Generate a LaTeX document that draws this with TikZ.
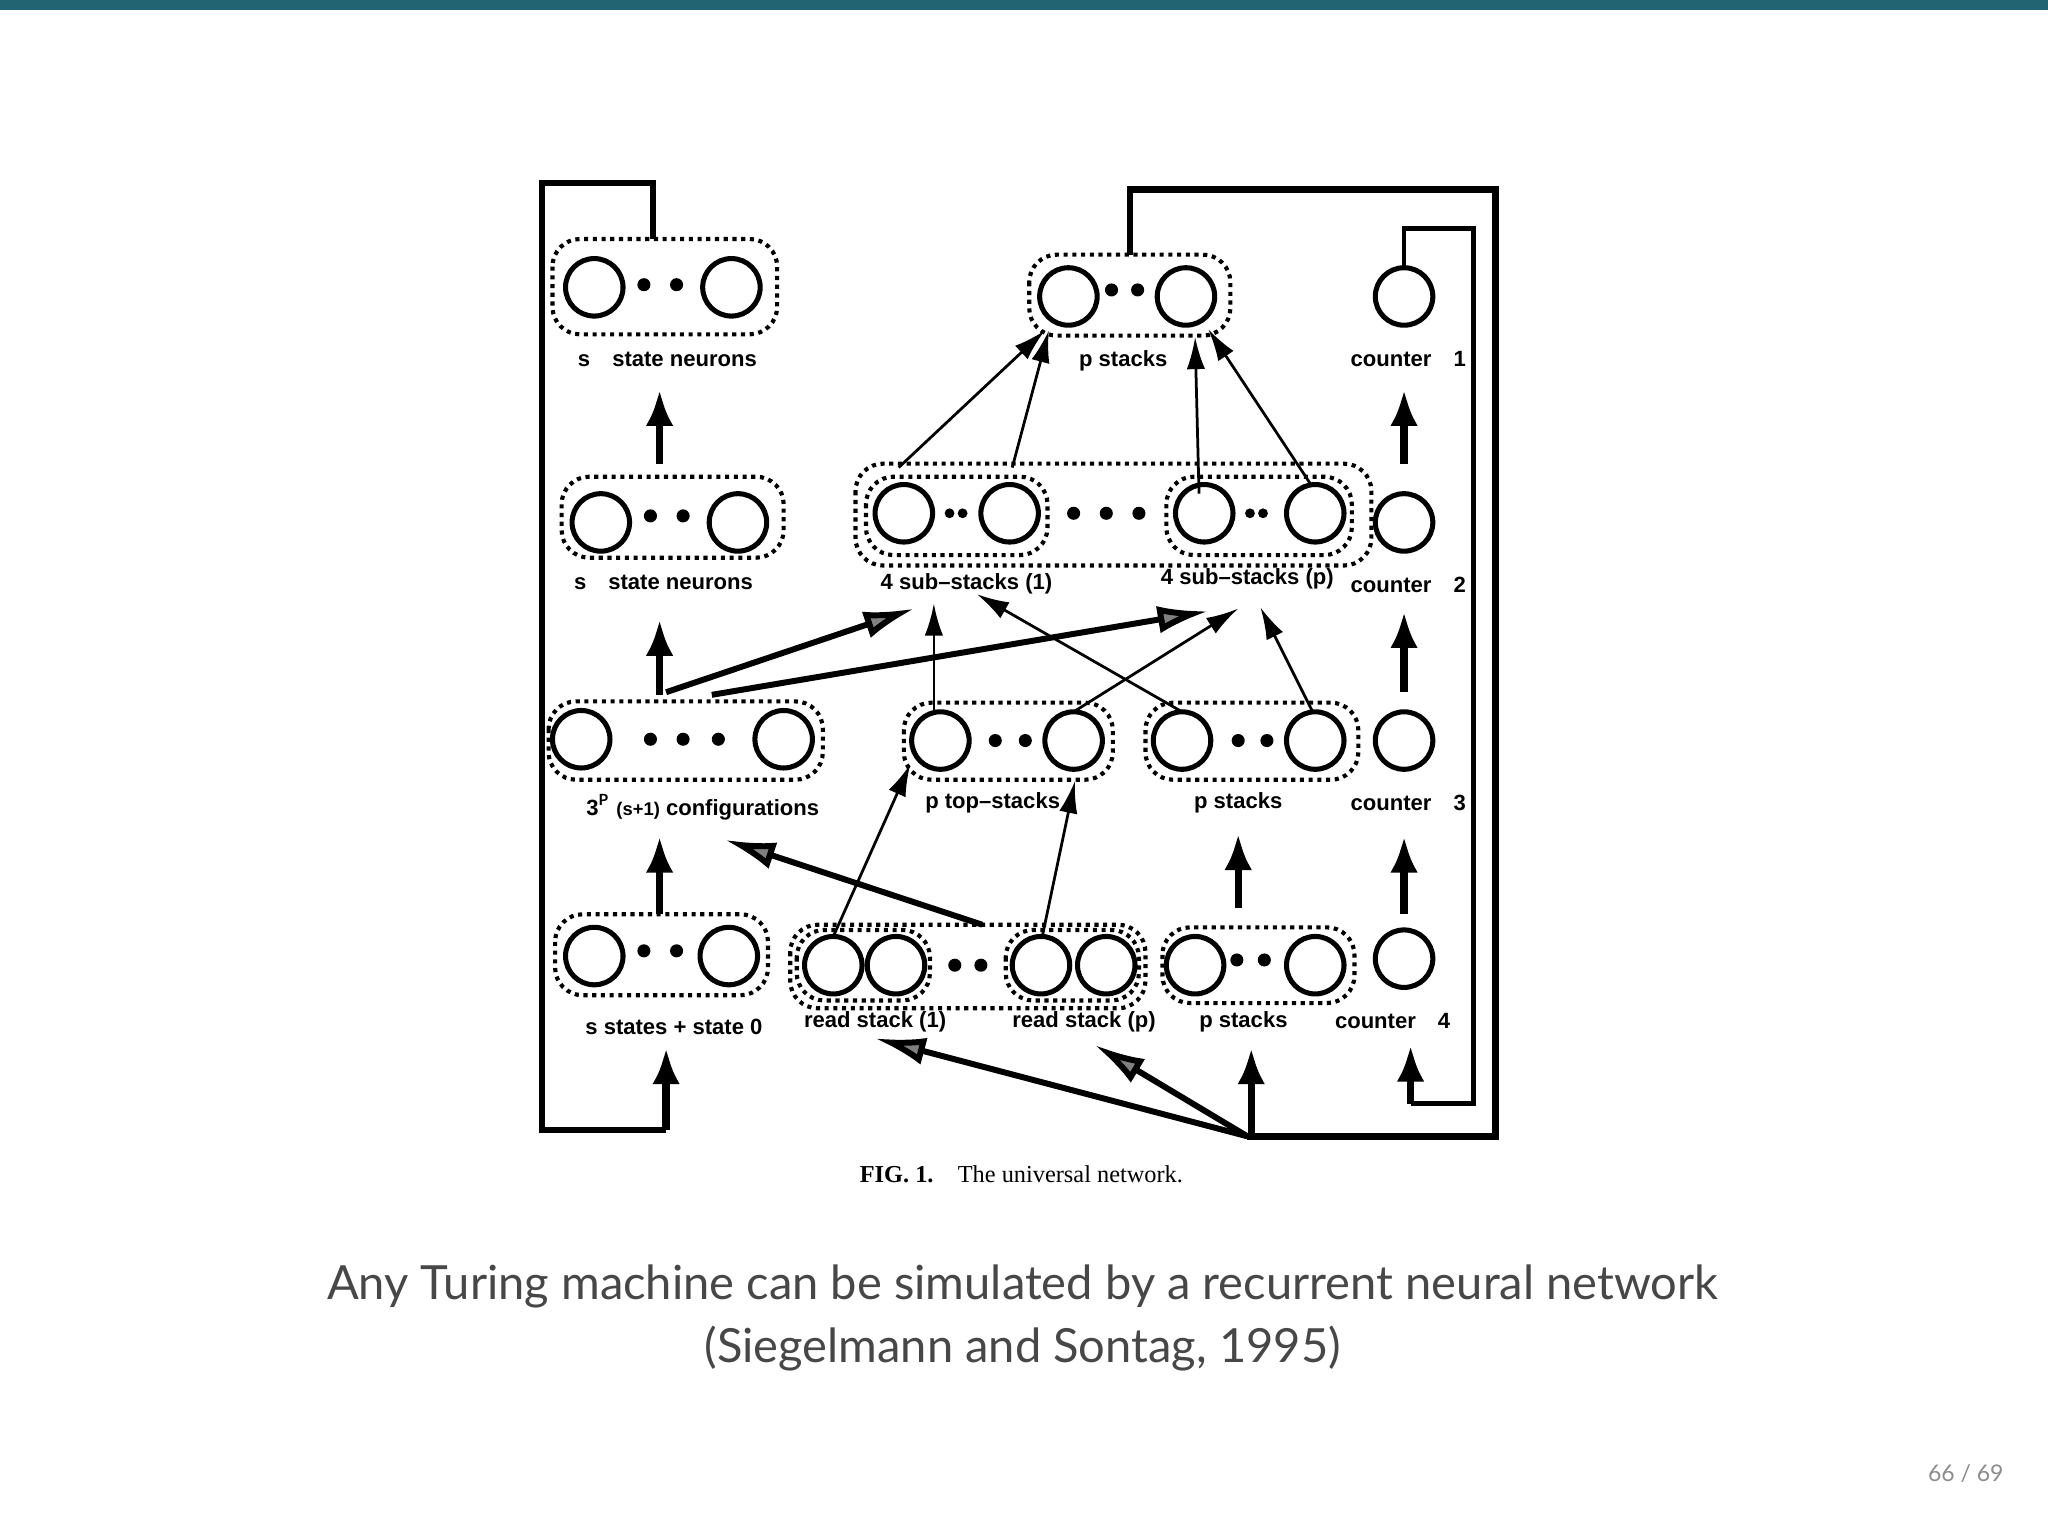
\documentclass[tikz,border=0pt]{standalone}
\usepackage{fontspec}
\setmainfont{Lato}
\newfontfamily\lab{Liberation Sans}
\newfontfamily\capf{Liberation Serif}
\usetikzlibrary{arrows.meta}
\definecolor{teal}{RGB}{35,100,115}
\begin{document}
\begin{tikzpicture}[x=0.01cm,y=-0.01cm,
  neuron/.style={circle,draw,line width=1.1pt,minimum size=0.44cm,inner sep=0pt},
  dotn/.style={circle,fill,inner sep=0pt,minimum size=0.1cm},
  sdot/.style={circle,fill,inner sep=0pt,minimum size=0.075cm},
  grp/.style={draw,densely dotted,line width=0.9pt,rounded corners=6pt},
  lbl/.style={font=\lab\bfseries\fontsize{4.8}{6}\selectfont,inner sep=0pt},
  loop/.style={line width=1.4pt},
  arr/.style={line width=0.6pt,-{Latex[length=7pt,width=4pt]}},
  thk/.style={line width=1.6pt,-{Latex[length=8pt,width=6pt]}},
  gry/.style={line width=1.3pt,-{Latex[length=11pt,width=6pt,fill=gray]}}]
\useasboundingbox (0,0) rectangle (1568,1174);
\fill[teal] (0,0) rectangle (1568,8);
% left column
\draw[grp] (423,183) rectangle (595,256);
\node[neuron] (a1) at (455,220) {}; \node[neuron] (a2) at (560,220) {};
\node[dotn] at (493,218) {}; \node[dotn] at (518,218) {};
\node[lbl] at (511,275) {s\quad state neurons};
\draw[grp] (430,365) rectangle (600,427);
\node[neuron] (b1) at (460,400) {}; \node[neuron] (b2) at (565,400) {};
\node[dotn] at (498,395) {}; \node[dotn] at (523,395) {};
\node[lbl] at (508,446) {s\quad state neurons};
\draw[grp] (420,537) rectangle (630,597);
\node[neuron] (c1) at (445,566) {}; \node[neuron] (c2) at (600,566) {};
\foreach \x in {498,523,550} \node[dotn] at (\x,566) {};
\node[lbl] at (538,618) {3$^{\mathbf P}$ {\fontsize{4}{5}\selectfont(s+1)} configurations};
\draw[grp] (425,700) rectangle (588,762);
\node[neuron] (d1) at (455,732) {}; \node[neuron] (d2) at (558,732) {};
\node[dotn] at (493,728) {}; \node[dotn] at (518,728) {};
\node[lbl] at (516,786) {s states + state 0};
\draw[thk] (505,355) -- (505,298);
\draw[thk] (505,532) -- (505,474);
\draw[thk] (505,700) -- (505,640);
% left loop
\draw[loop] (500,183) -- (500,140) -- (415,140) -- (415,865) -- (510,865);
\draw[thk] (510,865) -- (510,802);
% top middle
\draw[grp] (788,195) rectangle (942,257);
\node[neuron] (t1) at (818,227) {}; \node[neuron] (t2) at (908,227) {};
\node[dotn] at (851,222) {}; \node[dotn] at (871,222) {};
\node[lbl] at (860,276) {p stacks};
% right loop
\draw[loop] (865,195) -- (865,145) -- (1145,145) -- (1145,870) -- (955,870);
\draw[line width=1pt] (1075,205) -- (1075,175) -- (1128,175) -- (1128,845) -- (1080,845);
\draw[thk] (1080,845) -- (1080,800);
% counters
\foreach \y/\n/\ly in {227/1/275,400/2/448,567/3/615,734/4/782}{
  \node[neuron,fill=white] (k\n) at (1075,\y) {};
  \node[lbl,anchor=east] at (\ifnum\n=4 1111\else 1123\fi,\ly) {counter\quad\n};}
\draw[thk] (1075,355) -- (1075,298);
\draw[thk] (1075,530) -- (1075,468);
\draw[thk] (1075,700) -- (1075,640);
% sub-stacks
\draw[grp] (655,355) rectangle (1050,433);
\draw[grp] (663,365) rectangle (802,425);
\draw[grp] (893,365) rectangle (1035,425);
\node[neuron] (s1) at (692,393) {}; \node[neuron] (s2) at (773,393) {};
\node[neuron] (s3) at (922,393) {}; \node[neuron] (s4) at (1007,393) {};
\node[sdot] at (727,393) {}; \node[sdot] at (737,393) {};
\node[sdot] at (957,393) {}; \node[sdot] at (967,393) {};
\foreach \x in {822,847,872} \node[dotn] at (\x,393) {};
\node[lbl] at (740,447) {4 sub–stacks (1)};
\node[lbl] at (955,443) {4 sub–stacks (p)};
\draw[arr] (688,358) -- (800,253);
\draw[arr] (775,358) -- (803,253);
\draw[arr] (918,378) -- (915,258);
\draw[arr] (1003,370) -- (925,252);
% row 3
\draw[grp] (692,538) rectangle (852,597);
\node[neuron] (u1) at (720,567) {}; \node[neuron] (u2) at (822,567) {};
\node[dotn] at (762,567) {}; \node[dotn] at (785,567) {};
\node[lbl] at (760,615) {p top–stacks};
\draw[grp] (877,538) rectangle (1040,597);
\node[neuron] (v1) at (905,567) {}; \node[neuron] (v2) at (1007,567) {};
\node[dotn] at (948,567) {}; \node[dotn] at (970,567) {};
\node[lbl] at (948,615) {p stacks};
\draw[arr] (715,545) -- (715,462);
\draw[arr] (822,545) -- (948,466);
\draw[arr] (905,545) -- (748,455);
\draw[arr] (1005,545) -- (965,465);
\draw[gry] (510,530) -- (700,466);
\draw[gry] (545,532) -- (925,468);
\draw[thk] (948,695) -- (948,638);
% row 4
\draw[grp] (605,708) rectangle (877,772);
\draw[grp] (610,712) rectangle (712,766);
\draw[grp] (770,712) rectangle (872,766);
\node[neuron] (r1) at (638,739) {}; \node[neuron] (r2) at (686,739) {};
\node[neuron] (r3) at (797,739) {}; \node[neuron] (r4) at (847,739) {};
\node[dotn] at (731,739) {}; \node[dotn] at (751,739) {};
\node[lbl] at (670,782) {read stack (1)};
\node[lbl] at (830,782) {read stack (p)};
\draw[grp] (890,710) rectangle (1037,768);
\node[neuron] (w1) at (915,739) {}; \node[neuron] (w2) at (1007,739) {};
\node[dotn] at (947,735) {}; \node[dotn] at (968,735) {};
\node[lbl] at (952,782) {p stacks};
\draw[arr] (638,717) -- (697,585);
\draw[arr] (798,717) -- (823,598);
\draw[gry] (752,708) -- (555,643);
% bottom fan
\draw[gry] (955,870) -- (670,795);
\draw[gry] (955,870) -- (838,800);
\draw[thk] (958,870) -- (958,802);
% caption
\node[font=\capf\fontsize{5.3}{7}\selectfont] at (782,899) {\textbf{FIG. 1.}\quad The universal network.};
\node[font=\fontsize{10.25}{13.8}\selectfont,text=black!72,align=center] at (783,1009)
  {Any Turing machine can be simulated by a recurrent neural network\\(Siegelmann and Sontag, 1995)};
\node[font=\fontsize{5}{6}\selectfont,text=black!45] at (1505,1128) {66 / 69};
\end{tikzpicture}
\end{document}
